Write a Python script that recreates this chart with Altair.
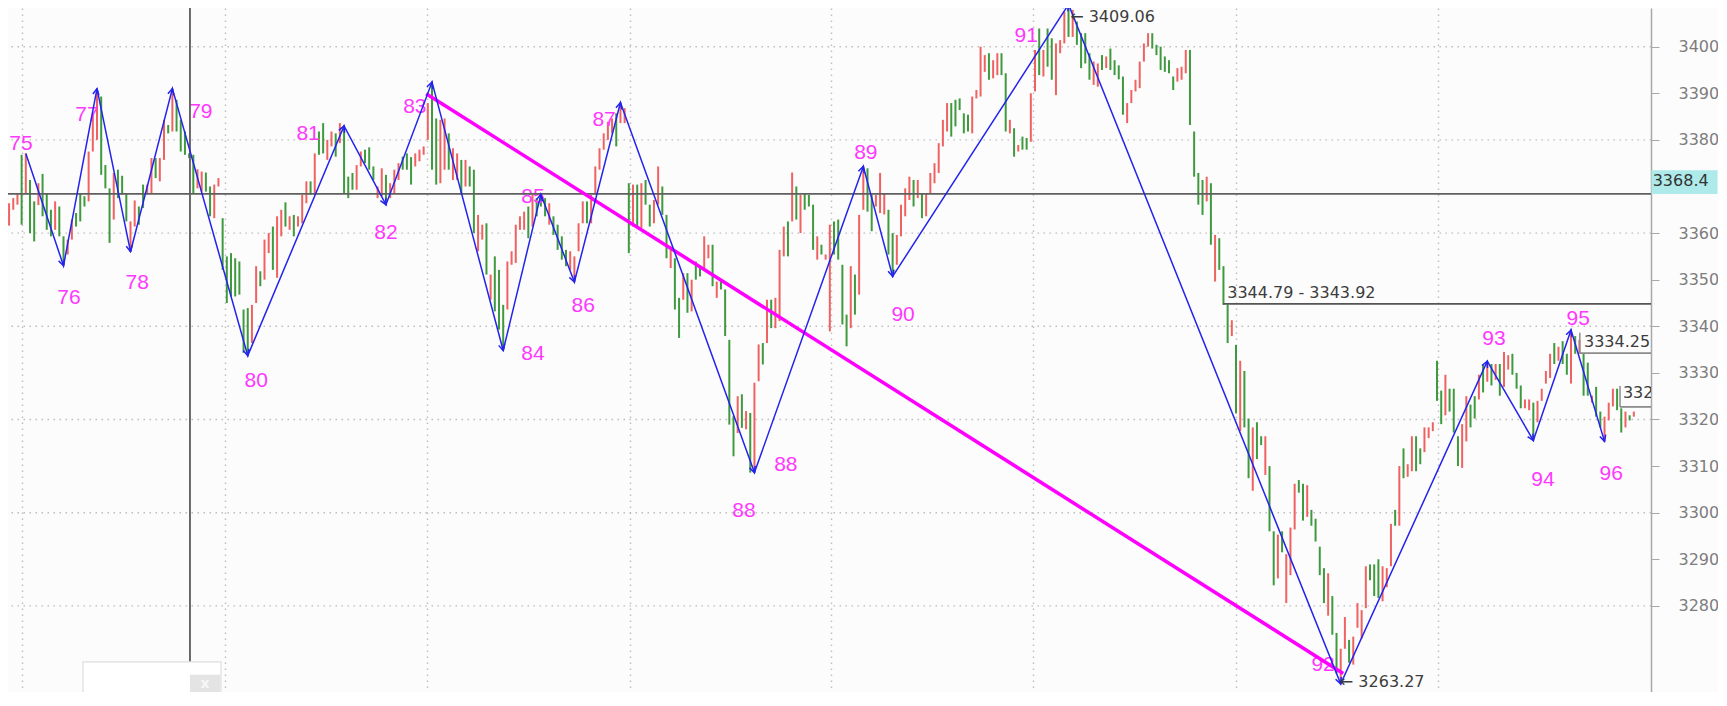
import math
import altair as alt
import pandas as pd

# ---------------- data ----------------
# bar highs / lows (price), one bar per time slot, index = position in list
HIGH = [
    3357.9, 3361.8, 3366.4, 3367.5, 3368.4, 3376.8, 3377.1, 3371.4, 3366.8, 3370.7,
    3372.7, 3368.4, 3365.0, 3366.8, 3365.7, 3359.3, 3358.6, 3362.9, 3364.3, 3368.4,
    3367.9, 3377.5, 3385.7, 3391.0, 3389.3, 3374.6, 3369.6, 3372.9, 3373.6, 3372.3,
    3368.6, 3362.5, 3367.0, 3365.7, 3370.4, 3370.4, 3376.1, 3376.1, 3376.1, 3384.3,
    3383.2, 3391.0, 3388.6, 3384.3, 3381.8, 3377.1, 3376.8, 3373.7, 3373.2, 3373.0,
    3370.0, 3370.4, 3371.8, 3363.2, 3355.0, 3355.7, 3354.6, 3353.9, 3343.6, 3343.9,
    3344.6, 3352.9, 3351.8, 3358.6, 3360.0, 3361.4, 3363.6, 3365.0, 3366.6, 3363.6,
    3363.9, 3363.6, 3368.2, 3371.1, 3371.1, 3377.1, 3381.8, 3383.6, 3380.0, 3381.8,
    3381.4, 3383.6, 3383.0, 3372.1, 3372.9, 3374.6, 3377.5, 3377.9, 3378.4, 3374.3,
    3370.0, 3373.9, 3372.5, 3370.7, 3373.6, 3375.0, 3376.4, 3377.1, 3376.3, 3377.1,
    3377.9, 3378.6, 3387.9, 3392.4, 3384.6, 3384.3, 3384.6, 3381.4, 3378.2, 3377.1,
    3375.7, 3375.7, 3374.3, 3373.6, 3363.9, 3361.8, 3362.1, 3351.1, 3355.0, 3352.1,
    3344.6, 3353.9, 3356.1, 3361.8, 3363.6, 3364.6, 3365.7, 3368.6, 3367.5, 3368.3,
    3367.5, 3366.4, 3363.6, 3361.8, 3359.3, 3356.4, 3356.1, 3355.0, 3362.1, 3366.8,
    3366.8, 3368.2, 3374.3, 3378.2, 3381.4, 3383.9, 3384.6, 3385.7, 3388.0, 3386.8,
    3370.7, 3370.4, 3370.4, 3370.7, 3371.4, 3366.1, 3367.1, 3374.3, 3370.0, 3363.9,
    3357.1, 3354.6, 3346.1, 3351.4, 3351.4, 3350.0, 3353.9, 3352.9, 3359.3, 3357.5,
    3357.5, 3349.6, 3349.6, 3347.9, 3337.1, 3320.7, 3325.0, 3325.4, 3321.8, 3321.4,
    3327.9, 3336.1, 3336.4, 3345.7, 3345.7, 3346.1, 3356.4, 3361.4, 3362.5, 3373.0,
    3370.0, 3368.2, 3368.6, 3368.2, 3366.1, 3359.3, 3357.5, 3355.4, 3361.8, 3362.5,
    3362.9, 3353.2, 3342.5, 3352.9, 3351.1, 3363.9, 3374.3, 3373.9, 3368.2, 3368.2,
    3372.9, 3368.6, 3365.0, 3360.0, 3359.6, 3366.1, 3369.6, 3372.1, 3371.4, 3371.4,
    3368.6, 3368.6, 3372.9, 3375.0, 3379.3, 3384.3, 3387.9, 3387.9, 3388.6, 3388.9,
    3385.7, 3385.4, 3389.3, 3390.7, 3400.0, 3398.2, 3398.6, 3397.1, 3398.6, 3398.6,
    3394.3, 3384.3, 3382.5, 3378.9, 3380.7, 3380.4, 3390.0, 3399.3, 3403.9, 3399.3,
    3403.9, 3401.8, 3400.7, 3401.4, 3407.5, 3409.06, 3407.9, 3405.4, 3402.9, 3402.9,
    3398.6, 3396.8, 3396.4, 3398.2, 3397.9, 3399.6, 3397.1, 3396.0, 3393.6, 3387.9,
    3390.7, 3392.9, 3396.8, 3400.7, 3402.9, 3402.9, 3400.4, 3400.0, 3397.9, 3397.1,
    3393.6, 3395.4, 3395.7, 3399.3, 3399.3, 3381.8, 3372.9, 3371.4, 3372.1, 3370.7,
    3359.6, 3358.9, 3352.9, 3344.7, 3341.3, 3336.0, 3332.6, 3330.4, 3320.2, 3318.3,
    3319.4, 3316.4, 3316.4, 3310.0, 3296.0, 3295.3, 3296.0, 3291.1, 3296.8, 3306.2,
    3307.0, 3306.2, 3305.9, 3300.6, 3298.7, 3292.7, 3288.1, 3287.0, 3282.1, 3274.2,
    3270.8, 3277.6, 3272.7, 3273.4, 3280.6, 3279.1, 3288.5, 3288.9, 3288.9, 3290.0,
    3288.5, 3288.1, 3297.6, 3300.6, 3310.0, 3313.8, 3310.4, 3316.4, 3316.4, 3313.8,
    3318.3, 3318.3, 3319.4, 3332.6, 3326.2, 3329.6, 3326.6, 3326.6, 3316.4, 3319.0,
    3325.0, 3323.2, 3325.0, 3329.6, 3331.9, 3332.5, 3331.9, 3331.9, 3331.9, 3334.5,
    3333.8, 3334.1, 3330.0, 3327.3, 3324.3, 3324.3, 3323.6, 3324.0, 3326.6, 3330.4,
    3334.1, 3336.4, 3335.6, 3336.8, 3334.1, 3339.2, 3337.9, 3337.1, 3334.1, 3332.2,
    3325.1, 3327.0, 3321.7, 3320.6, 3323.6, 3326.6, 3326.6, 3322.4, 3321.7, 3320.9,
    3321.7,
]
LOW = [
    3353.7, 3357.9, 3361.6, 3365.0, 3366.1, 3361.8, 3368.4, 3360.0, 3358.2, 3366.0,
    3363.6, 3360.7, 3359.3, 3360.7, 3359.3, 3353.0, 3355.4, 3358.6, 3361.4, 3362.5,
    3365.7, 3366.8, 3377.5, 3380.0, 3372.5, 3369.6, 3357.9, 3362.9, 3367.5, 3368.2,
    3362.5, 3356.0, 3361.4, 3361.8, 3365.4, 3368.6, 3368.6, 3371.8, 3371.1, 3375.7,
    3381.4, 3381.8, 3381.8, 3377.5, 3376.8, 3376.1, 3368.6, 3369.6, 3368.9, 3368.9,
    3363.6, 3363.2, 3370.0, 3352.1, 3345.0, 3346.4, 3346.4, 3346.8, 3334.3, 3333.7,
    3336.4, 3345.0, 3348.6, 3350.0, 3355.7, 3352.1, 3350.4, 3359.3, 3361.4, 3360.7,
    3359.3, 3361.4, 3362.1, 3366.4, 3368.2, 3368.2, 3376.8, 3377.1, 3375.7, 3378.6,
    3376.4, 3379.3, 3368.6, 3367.5, 3369.3, 3369.3, 3374.3, 3375.0, 3373.6, 3371.4,
    3367.5, 3367.9, 3366.1, 3367.5, 3368.6, 3371.4, 3373.6, 3373.6, 3370.4, 3374.3,
    3375.4, 3376.8, 3380.0, 3373.6, 3370.4, 3370.7, 3373.6, 3373.6, 3371.4, 3371.4,
    3368.2, 3370.0, 3370.0, 3360.0, 3356.1, 3358.6, 3351.1, 3345.7, 3343.2, 3339.3,
    3334.8, 3343.6, 3353.2, 3353.6, 3360.7, 3360.7, 3358.9, 3361.4, 3363.6, 3365.7,
    3363.6, 3361.8, 3359.6, 3356.4, 3354.3, 3352.9, 3352.1, 3349.5, 3356.1, 3362.1,
    3362.1, 3362.1, 3368.2, 3373.6, 3377.9, 3380.0, 3381.4, 3378.6, 3383.6, 3383.6,
    3355.7, 3361.4, 3361.4, 3361.1, 3366.1, 3361.4, 3362.1, 3366.1, 3363.9, 3354.6,
    3352.5, 3343.6, 3337.5, 3345.7, 3342.9, 3343.2, 3350.0, 3350.7, 3352.1, 3354.6,
    3348.6, 3346.1, 3347.9, 3337.9, 3318.9, 3312.1, 3317.1, 3318.2, 3317.9, 3308.6,
    3308.6, 3328.2, 3331.8, 3336.4, 3339.6, 3339.6, 3341.1, 3355.0, 3355.0, 3362.5,
    3362.9, 3360.0, 3365.0, 3365.7, 3356.4, 3354.3, 3355.4, 3354.3, 3338.9, 3355.4,
    3354.3, 3340.4, 3335.7, 3339.6, 3342.5, 3346.8, 3365.0, 3364.6, 3360.4, 3365.7,
    3364.3, 3364.0, 3355.4, 3350.7, 3353.2, 3359.3, 3363.6, 3367.1, 3365.7, 3367.5,
    3363.2, 3363.6, 3368.6, 3370.7, 3372.9, 3378.6, 3381.8, 3380.7, 3382.9, 3386.4,
    3381.4, 3381.8, 3381.4, 3388.9, 3389.3, 3394.6, 3392.9, 3393.2, 3393.9, 3393.9,
    3381.8, 3381.4, 3376.4, 3377.5, 3377.9, 3377.9, 3379.6, 3390.4, 3393.9, 3393.6,
    3395.7, 3392.9, 3389.6, 3398.6, 3400.7, 3402.1, 3402.1, 3400.4, 3395.4, 3396.4,
    3392.9, 3391.8, 3391.4, 3395.0, 3395.4, 3395.0, 3393.9, 3393.0, 3385.4, 3383.6,
    3387.9, 3390.4, 3391.1, 3396.8, 3400.0, 3399.6, 3398.2, 3395.0, 3394.6, 3394.3,
    3390.7, 3392.5, 3392.9, 3394.3, 3383.2, 3372.1, 3366.1, 3363.9, 3366.8, 3357.5,
    3349.6, 3352.1, 3344.6, 3336.4, 3337.9, 3321.3, 3317.5, 3318.3, 3307.4, 3304.7,
    3311.5, 3314.5, 3308.1, 3296.0, 3284.4, 3285.9, 3291.5, 3280.6, 3286.6, 3296.4,
    3304.3, 3298.3, 3299.1, 3297.2, 3293.8, 3286.6, 3280.6, 3277.9, 3273.8, 3265.5,
    3263.27, 3270.8, 3267.8, 3267.4, 3275.3, 3273.0, 3279.5, 3285.5, 3282.1, 3281.7,
    3281.0, 3284.0, 3288.5, 3297.2, 3297.2, 3307.4, 3307.7, 3308.9, 3308.9, 3310.4,
    3313.0, 3316.0, 3317.5, 3324.0, 3319.0, 3320.9, 3321.7, 3317.2, 3310.0, 3309.6,
    3315.3, 3318.3, 3320.2, 3324.3, 3325.8, 3328.1, 3327.3, 3328.5, 3325.1, 3327.0,
    3330.7, 3329.6, 3326.6, 3322.4, 3322.4, 3322.0, 3315.5, 3319.4, 3324.0, 3327.7,
    3328.9, 3331.9, 3332.6, 3331.9, 3329.6, 3327.7, 3334.1, 3334.1, 3325.1, 3325.1,
    3323.6, 3320.6, 3318.3, 3315.3, 3319.8, 3322.8, 3322.0, 3317.2, 3318.3, 3319.8,
    3320.6,
]
# g = up bar (green), r = down bar (red)
DIR = (
    "rrrrrgrggr" "gggrggrrgg" "grrrgggrgg" "grrggrrgrr" "grgggggrrg"
    "grrggggggg" "rrgrrgrrgr" "grrrgrggrr" "grgggrrggg" "rrgrrrgggr"
    "rrrggrrgrr" "grggrrgrgg" "grrrrrgrgg" "grggggrrrr" "grrrrrrgrr"
    "grgrggrrgg" "rggrgrggrr" "grggggrgrg" "rrgrgrrrgr" "grgggrgrrg"
    "gggrgrrggr" "rrggrrrrgr" "grrrrrrggg" "ggrrrrgrrg" "grgrggrrgr"
    "ggrrrgrggg" "grrgrggggr" "rrrrrggggg" "grrrggggrg" "rgggrgrggr"
    "ggrggrgrrr" "ggrggggrgg" "rrgrrrrggg" "rrrgrgrrgg" "rrrggrgggr"
    "rggrgrgrgr" "rgggrrgrrr" "rgrggrgrgg" "rggrrrggrg" "r"
)

# zigzag swing points (bar index, price)
SWING_IDX = [6, 15, 23, 31, 41, 59, 82, 92, 103, 120, 129, 137, 148, 180,
             206, 213, 255, 320, 355, 366, 375, 383]
SWING_PRICE = [3377.1, 3353.0, 3391.0, 3356.0, 3391.0, 3333.7, 3383.0, 3366.1,
               3392.4, 3334.8, 3368.3, 3349.5, 3388.0, 3308.6, 3374.3, 3350.7,
               3409.06, 3263.27, 3332.5, 3315.5, 3339.2, 3315.3]

# wave labels
LBL_TEXT = ["75", "76", "77", "78", "79", "80", "81", "82", "83", "84", "85", "86",
            "87", "88", "88", "89", "90", "91", "92", "93", "94", "95", "96"]
LBL_IDX = [4.85, 16.3, 20.6, 32.6, 47.8, 61.0, 73.4, 92.0, 98.9, 127.1, 127.1,
           139.1, 144.1, 187.5, 177.5, 206.6, 215.5, 244.9, 315.8, 356.6, 368.3,
           376.7, 384.6]
LBL_PRICE = [3379.1, 3346.1, 3385.3, 3349.3, 3386.0, 3328.3, 3381.3, 3360.0,
             3387.1, 3334.1, 3367.8, 3344.4, 3384.3, 3310.2, 3300.4, 3377.2,
             3342.4, 3402.3, 3267.3, 3337.3, 3307.0, 3341.6, 3308.3]

# magenta trend line end points
TREND_IDX = [101.6, 320.6]
TREND_PRICE = [3389.9, 3265.5]

# crosshair
CROSS_IDX = 45.2
CROSS_PRICE = 3368.4

# price axis
Y_TICKS = [3280, 3290, 3300, 3310, 3320, 3330, 3340, 3350, 3360, 3380, 3390, 3400]
H_GRID = [3280, 3300, 3320, 3340, 3360, 3380, 3400]
V_GRID = [5.09, 53.57, 101.8, 150.3, 198.3, 246.5, 295.0, 343.2]

# price level lines (start index, price, color)
LVL_X = [291.9, 377.1, 386.7]
LVL_P = [3344.79, 3334.25, 3322.7]
LVL_TOP = [3344.79, 3338.6, 3327.2]
LVL_COL = ["#555555", "#8c8c8c", "#8c8c8c"]

# gray annotation texts
ANN_TEXT = ["3344.79 - 3343.92", "3334.25", "3322.74", "\u2190 3409.06", "\u2190 3263.27"]
ANN_IDX = [292.9, 378.1, 387.4, 255.4, 319.8]
ANN_PRICE = [3347.2, 3336.6, 3325.7, 3406.3, 3263.6]

# ---------------- geometry ----------------
W, H = 1643, 684
X_DOM = [1.7457, 394.1]
Y_DOM = [3261.52, 3408.30]
xs = alt.Scale(domain=X_DOM, nice=False, zero=False)
ys = alt.Scale(domain=Y_DOM, nice=False, zero=False)

RED = "#f06262"
GREEN = "#3f9a3f"
BLUE = "#2323ee"
MAGENTA = "#ff38ff"
GRIDC = "#bdbdbd"

AX_X = alt.Axis(values=V_GRID, grid=True, gridColor=GRIDC, gridDash=[1.5, 4.5], gridWidth=1.4,
                labels=False, ticks=False, domain=False, title=None)
AX_Y = alt.Axis(orient="right", values=Y_TICKS, grid=False, title=None, format="d",
                domainColor="#a8a8a8", domainWidth=1.5, tickColor="#a8a8a8", tickSize=8,
                labelFont="DejaVu Sans", labelFontSize=16, labelColor="#7d7d7d",
                labelPadding=19, labelOverlap=False, labelFlush=False)

assert len(HIGH) == len(LOW) == len(DIR)

bars_df = pd.DataFrame({"i": list(range(len(HIGH))), "hi": HIGH, "lo": LOW, "d": list(DIR)})
swing_df = pd.DataFrame({"i": SWING_IDX, "p": SWING_PRICE})

sx = W / (X_DOM[1] - X_DOM[0])
sy = H / (Y_DOM[1] - Y_DOM[0])
angles = []
for k in range(1, len(SWING_IDX)):
    dx = (SWING_IDX[k] - SWING_IDX[k - 1]) * sx
    dy = -(SWING_PRICE[k] - SWING_PRICE[k - 1]) * sy
    angles.append(math.degrees(math.atan2(dx, -dy)) % 360)
arrow_df = pd.DataFrame({"i": SWING_IDX[1:], "p": SWING_PRICE[1:], "a": angles})

lbl_df = pd.DataFrame({"t": LBL_TEXT, "i": LBL_IDX, "p": LBL_PRICE})
trend_df = pd.DataFrame({"i": TREND_IDX, "p": TREND_PRICE})
lvl_df = pd.DataFrame({"i": LVL_X, "i2": [X_DOM[1]] * 3, "p": LVL_P, "top": LVL_TOP, "c": LVL_COL})
ann_df = pd.DataFrame({"t": ANN_TEXT, "i": ANN_IDX, "p": ANN_PRICE})


def X(f):
    return alt.X(f, scale=xs, axis=AX_X)


def Y(f):
    return alt.Y(f, scale=ys, axis=AX_Y)


hgrid = alt.Chart(pd.DataFrame({"p": H_GRID})).mark_rule(
    color=GRIDC, strokeWidth=1.4, strokeDash=[1.5, 4.5]
).encode(y=Y("p:Q"))

bars = alt.Chart(bars_df).mark_rule(strokeWidth=2, clip=True).encode(
    x=X("i:Q"), y=Y("lo:Q"), y2="hi:Q",
    color=alt.Color("d:N", scale=alt.Scale(domain=["g", "r"], range=[GREEN, RED]), legend=None),
)

labels = alt.Chart(lbl_df).mark_text(
    font="Liberation Sans", fontSize=21, color=MAGENTA, align="center", baseline="middle", clip=True
).encode(x=X("i:Q"), y=Y("p:Q"), text="t:N")

cross_v = alt.Chart(pd.DataFrame({"i": [CROSS_IDX]})).mark_rule(
    color="#5a5a5a", strokeWidth=1.8).encode(x=X("i:Q"))
cross_h = alt.Chart(pd.DataFrame({"p": [CROSS_PRICE]})).mark_rule(
    color="#5f5f5f", strokeWidth=1.8).encode(y=Y("p:Q"))

trend = alt.Chart(trend_df).mark_line(color="#ff00ff", strokeWidth=3.5, clip=True).encode(
    x=X("i:Q"), y=Y("p:Q"))

zig = alt.Chart(swing_df).mark_line(color=BLUE, strokeWidth=1.5, clip=True).encode(
    x=X("i:Q"), y=Y("p:Q"))

arrows = alt.Chart(arrow_df).mark_point(
    shape="M -0.5 1 L 0 0 L 0.5 1", filled=False, size=150, strokeWidth=1.5,
    color=BLUE, opacity=1
).encode(x=X("i:Q"), y=Y("p:Q"), angle=alt.Angle("a:Q", scale=None))

lvl_h = alt.Chart(lvl_df).mark_rule(strokeWidth=1.8).encode(
    x=X("i:Q"), x2="i2:Q", y=Y("p:Q"), color=alt.Color("c:N", scale=None))
lvl_v = alt.Chart(lvl_df.iloc[1:]).mark_rule(strokeWidth=1.5).encode(
    x=X("i:Q"), y=Y("p:Q"), y2="top:Q", color=alt.Color("c:N", scale=None))

ann = alt.Chart(ann_df).mark_text(
    font="DejaVu Sans", fontSize=16, color="#3c3c3c", align="left", baseline="middle", clip=True
).encode(x=X("i:Q"), y=Y("p:Q"), text="t:N")

cur_box = alt.Chart(pd.DataFrame({"i": [394.2], "i2": [410.0], "p": [CROSS_PRICE], "p2": [3373.5]})).mark_rect(
    color="#aeeaea").encode(x=X("i:Q"), x2="i2:Q", y=Y("p:Q"), y2="p2:Q")
cur_txt = alt.Chart(pd.DataFrame({"i": [394.5], "p": [3371.1], "t": ["3368.4"]})).mark_text(
    font="DejaVu Sans", fontSize=16, color="#333333", align="left", baseline="middle"
).encode(x=X("i:Q"), y=Y("p:Q"), text="t:N")

popup = alt.Chart(pd.DataFrame({"i": [19.66], "i2": [52.6], "p": [3268.0], "p2": [3250.0]})).mark_rect(
    fill="white", stroke="#dedede", strokeWidth=1.2, clip=True
).encode(x=X("i:Q"), x2="i2:Q", y=Y("p:Q"), y2="p2:Q")
popup_btn = alt.Chart(pd.DataFrame({"i": [45.2], "i2": [52.4], "p": [3265.2], "p2": [3250.0]})).mark_rect(
    fill="#e4e4e4", clip=True
).encode(x=X("i:Q"), x2="i2:Q", y=Y("p:Q"), y2="p2:Q")
popup_x = alt.Chart(pd.DataFrame({"i": [48.8], "p": [3263.2], "t": ["x"]})).mark_text(
    font="DejaVu Sans", fontSize=14, fontWeight="bold", color="#f7f7f7", align="center", baseline="middle"
).encode(x=X("i:Q"), y=Y("p:Q"), text="t:N")

chart = alt.layer(
    hgrid, bars, labels, cross_v, cross_h, trend, zig, arrows,
    lvl_h, lvl_v, ann, cur_box, cur_txt, popup, popup_btn, popup_x,
).properties(
    width=W, height=H,
    autosize=alt.AutoSizeParams(type="none"),
    padding={"left": 0, "top": 0, "right": 67, "bottom": 0},
    background="#fcfcfc",
).configure_view(stroke=None)

chart.save("out.html", embed_options={"renderer": "svg", "actions": False})
